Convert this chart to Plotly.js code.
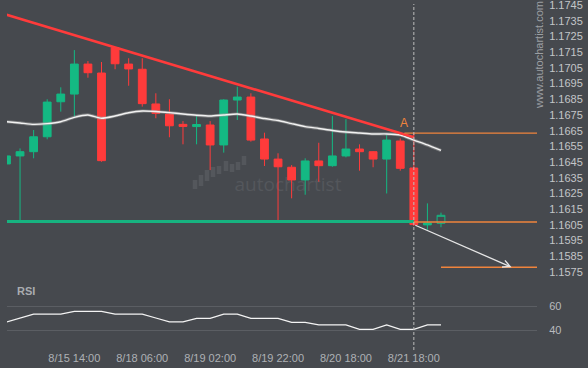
<!DOCTYPE html>
<html>
<head>
<meta charset="utf-8">
<script src="https://cdn.plot.ly/plotly-3.0.1.min.js"></script>
<style>html,body{margin:0;padding:0;background:#46494e;}#chart{width:588px;height:368px;}</style>
</head>
<body>
<div id="chart"></div>
<script>
// ---- data ----
const candleIdx = [0,1,2,3,4,5,6,7,8,9,10,11,12,13,14,15,16,17,18,19,20,21,22,23,24,25,26,27,28,29,30,31,32];
const openP  = [1.16438,1.16489,1.16516,1.16611,1.16834,1.16883,1.17074,1.17017,1.17178,1.17074,1.17041,1.16820,1.16756,1.16690,1.16676,1.16686,1.16559,1.16845,1.16864,1.16597,1.16469,1.16417,1.16336,1.16457,1.16427,1.16489,1.16533,1.16516,1.16469,1.16584,1.16412,1.16050,1.16060];
const highP  = [1.16489,1.16537,1.16654,1.16850,1.16926,1.17163,1.17093,1.17087,1.17182,1.17111,1.17111,1.16888,1.16850,1.16711,1.16750,1.16711,1.16850,1.16930,1.16888,1.16637,1.16506,1.16431,1.16474,1.16573,1.16743,1.16723,1.16563,1.16520,1.16622,1.16601,1.16633,1.16187,1.16128];
const lowP   = [1.16438,1.16077,1.16474,1.16595,1.16771,1.16739,1.16987,1.16452,1.17041,1.16936,1.16803,1.16729,1.16608,1.16563,1.16563,1.16399,1.16510,1.16718,1.16580,1.16425,1.16070,1.16219,1.16242,1.16325,1.16420,1.16480,1.16395,1.16417,1.16250,1.16395,1.16043,1.16018,1.16035];
const closeP = [1.16489,1.16516,1.16611,1.16832,1.16883,1.17074,1.17019,1.16459,1.17076,1.17043,1.16822,1.16760,1.16681,1.16677,1.16689,1.16559,1.16845,1.16864,1.16590,1.16469,1.16420,1.16336,1.16457,1.16427,1.16489,1.16533,1.16516,1.16469,1.16590,1.16410,1.16052,1.16062,1.16111];
const maValues = [1.16707,1.16699,1.16690,1.16695,1.16707,1.16735,1.16750,1.16729,1.16743,1.16764,1.16775,1.16772,1.16765,1.16756,1.16748,1.16743,1.16750,1.16756,1.16743,1.16727,1.16715,1.16695,1.16676,1.16664,1.16651,1.16641,1.16635,1.16629,1.16629,1.16622,1.16590,1.16559,1.16524];
const rsiValues = [46.7,50.0,53.3,53.3,53.3,55.6,55.6,55.6,53.3,53.3,53.3,50.0,46.7,46.7,49.7,49.7,53.3,53.3,49.7,49.7,49.7,46.4,46.4,44.2,44.2,44.2,40.6,40.6,44.2,40.6,40.6,44.2,44.2];
const xTickIdx = [5,10,15,20,25,30];
const xTickText = ['8/15 14:00','8/18 06:00','8/19 02:00','8/19 22:00','8/20 18:00','8/21 18:00'];
const priceTicks = [1.1745,1.1735,1.1725,1.1715,1.1705,1.1695,1.1685,1.1675,1.1665,1.1655,1.1645,1.1635,1.1625,1.1615,1.1605,1.1595,1.1585,1.1575];
const priceTickText = ['1.1745','1.1735','1.1725','1.1715','1.1705','1.1695','1.1685','1.1675','1.1665','1.1655','1.1645','1.1635','1.1625','1.1615','1.1605','1.1595','1.1585','1.1575'];
const rsiTicks = [40,60];
const rsiTickText = ['40','60'];
// pattern lines
const resistX = [0,30];
const resistY = [1.17388,1.16608];
const supportX = [0,30];
const supportY = [1.16072,1.16072];
const levelAX = [29.3,40];
const levelAY = [1.16634,1.16634];
const breakX = [30,40];
const breakY = [1.16068,1.16068];
const targetX = [32,40];
const targetY = [1.15780,1.15780];
const projFrom = [30,1.16052];
const projTo = [37.2,1.15780];
const eventIdx = 30;
const labelA = [29.3,1.16634];

// ---- styles ----
const BG = '#46494e';
const GREEN = '#14b983';
const RED = '#ff3b3b';
const ORANGE = '#f0843c';
const W = 588, H = 368, ML = 7, MR = 51, MT = 0, MB = 23;
const PW = W-ML-MR, PH = H-MT-MB;
const px2x = p => (p-ML)/PW;
const px2y = p => 1-(p-MT)/PH;

const n = candleIdx.length;
const main = i => i < n-1;
const traces = [
  {type:'candlestick', x:candleIdx.filter((_, i)=>main(i)), open:openP.filter((_, i)=>main(i)), high:highP.filter((_, i)=>main(i)), low:lowP.filter((_, i)=>main(i)), close:closeP.filter((_, i)=>main(i)),
   increasing:{line:{color:GREEN,width:1},fillcolor:GREEN}, decreasing:{line:{color:RED,width:1},fillcolor:RED},
   whiskerwidth:0, xaxis:'x', yaxis:'y', hoverinfo:'skip', showlegend:false},
  {type:'candlestick', x:[candleIdx[n-1]], open:[openP[n-1]], high:[highP[n-1]], low:[lowP[n-1]], close:[closeP[n-1]],
   increasing:{line:{color:GREEN,width:1},fillcolor:BG}, decreasing:{line:{color:RED,width:1},fillcolor:BG},
   whiskerwidth:0, xaxis:'x', yaxis:'y', hoverinfo:'skip', showlegend:false},
  {type:'scatter', mode:'lines', x:candleIdx, y:maValues, line:{color:'rgba(160,160,160,0.55)',width:3.2,shape:'spline',smoothing:0.6}, xaxis:'x', yaxis:'y', hoverinfo:'skip', showlegend:false},
  {type:'scatter', mode:'lines', x:candleIdx, y:maValues, line:{color:'#f2f2f2',width:1.4,shape:'spline',smoothing:0.6}, xaxis:'x', yaxis:'y', hoverinfo:'skip', showlegend:false},
  {type:'scatter', mode:'lines', x:resistX, y:resistY, line:{color:RED,width:2.6}, xaxis:'x', yaxis:'y', hoverinfo:'skip', showlegend:false},
  {type:'scatter', mode:'lines', x:supportX, y:supportY, line:{color:'#17b380',width:3}, xaxis:'x', yaxis:'y', hoverinfo:'skip', showlegend:false},
  {type:'scatter', mode:'lines', x:levelAX, y:levelAY, line:{color:ORANGE,width:1.4}, xaxis:'x', yaxis:'y', hoverinfo:'skip', showlegend:false},
  {type:'scatter', mode:'lines', x:breakX, y:breakY, line:{color:ORANGE,width:1.4}, xaxis:'x', yaxis:'y', hoverinfo:'skip', showlegend:false},
  {type:'scatter', mode:'lines', x:targetX, y:targetY, line:{color:ORANGE,width:1.4}, xaxis:'x', yaxis:'y', hoverinfo:'skip', showlegend:false},
  {type:'scatter', mode:'lines', x:candleIdx, y:rsiValues, line:{color:'#f4f4f4',width:1.3}, xaxis:'x', yaxis:'y2', hoverinfo:'skip', showlegend:false}
];

// faint watermark logo bars (decoration, pixel positions)
const LOGO = [[195,180,189],[201,175,186],[207,170,181],[213,167,177],[219,166,174],[226,161,171],[232,164,172],[238,162,170],[244,156,165]];
const shapes = LOGO.map(b => ({type:'line', xref:'paper', yref:'paper', layer:'below',
  x0:px2x(b[0]), x1:px2x(b[0]), y0:px2y(b[1]), y1:px2y(b[2]), line:{color:'#54575c', width:4.5}}));
shapes.push({type:'rect', xref:'paper', yref:'paper', layer:'below', x0:px2x(226), x1:px2x(350), y0:px2y(175), y1:px2y(195),
  line:{width:0}, fillcolor:'rgba(0,0,0,0)',
  label:{text:'autochartist', textposition:'middle center', font:{family:'Open Sans, DejaVu Sans, sans-serif', size:19, color:'#54575c'}, padding:0}});
shapes.push({type:'line', xref:'x', yref:'paper', x0:eventIdx, x1:eventIdx, y0:px2y(350), y1:px2y(4),
  line:{color:'#bdbdbd', width:1, dash:'3px,2px'}});

const annotations = [
  {x:projTo[0], y:projTo[1], ax:projFrom[0], ay:projFrom[1], xref:'x', yref:'y', axref:'x', ayref:'y',
   showarrow:true, arrowhead:5, arrowsize:1.1, arrowwidth:1.3, arrowcolor:'#e6e6e6', text:''},
  {x:labelA[0], y:labelA[1], xref:'x', yref:'y', text:'A', showarrow:false, yanchor:'bottom', yshift:1,
   font:{family:'Liberation Sans, Arial, sans-serif', size:12, color:ORANGE}},
  {x:px2x(15), y:px2y(291), xref:'paper', yref:'paper', text:'<b>RSI</b>', showarrow:false, xanchor:'left', yanchor:'middle',
   font:{family:'Liberation Sans, Arial, sans-serif', size:11, color:'#a9acb0'}},
  {x:px2x(539), y:px2y(55), xref:'paper', yref:'paper', text:'www.autochartist.com', textangle:-90, showarrow:false,
   xanchor:'center', yanchor:'middle', font:{family:'Liberation Sans, Arial, sans-serif', size:11, color:'#9c9fa3'}}
];

const layout = {
  width:W, height:H, margin:{l:ML, r:MR, t:MT, b:MB, pad:0},
  paper_bgcolor:BG, plot_bgcolor:BG, showlegend:false, boxgap:0.18,
  font:{family:'Liberation Sans, Arial, sans-serif', size:11, color:'#b8babd'},
  xaxis:{range:[0.04,39.07], anchor:'y2', tickmode:'array', tickvals:xTickIdx, ticktext:xTickText,
    showgrid:false, zeroline:false, showline:false, ticks:'outside', ticklen:3, tickcolor:'rgba(0,0,0,0)',
    rangeslider:{visible:false}, ticklabeloverflow:'allow', tickfont:{size:11, color:'#aeb1b5'}},
  yaxis:{domain:[1-280/PH,1], range:[1.15699,1.17482], side:'right', anchor:'x', tickmode:'array',
    tickvals:priceTicks, ticktext:priceTickText, showgrid:false, zeroline:false, showline:false,
    ticks:'outside', ticklen:9, tickcolor:'rgba(0,0,0,0)', ticklabeloverflow:'allow',
    tickfont:{size:11, color:'#c3c5c8'}},
  yaxis2:{domain:[0,60/PH], range:[27.5,77.5], side:'right', anchor:'x', tickmode:'array',
    tickvals:rsiTicks, ticktext:rsiTickText, showgrid:true, gridcolor:'#5b5e63', gridwidth:1, zeroline:false, showline:false,
    ticks:'outside', ticklen:9, tickcolor:'rgba(0,0,0,0)', ticklabeloverflow:'allow', tickfont:{size:11, color:'#b8babd'}},
  shapes:shapes, annotations:annotations
};

Plotly.newPlot('chart', traces, layout, {staticPlot:true, displayModeBar:false});
</script>
</body>
</html>
